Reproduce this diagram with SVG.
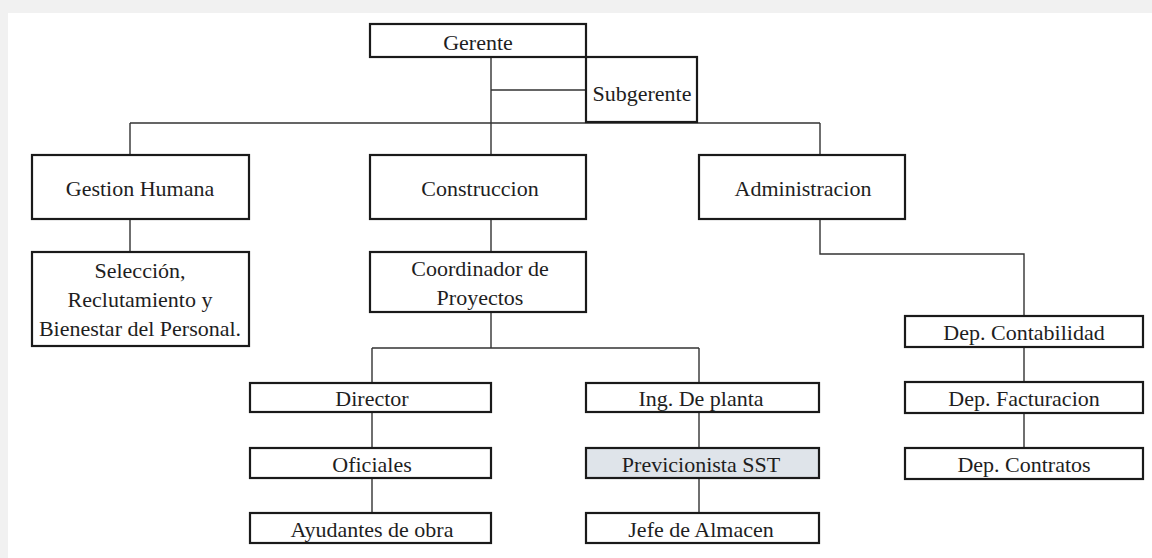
<svg xmlns="http://www.w3.org/2000/svg" width="1152" height="558" viewBox="0 0 1152 558">
<style>
.box{fill:#ffffff;stroke:#1a1a1a;stroke-width:2.2}
.hl{fill:#dfe4ea}
.t{font-family:'Liberation Serif','Tinos','DejaVu Serif','Noto Serif',serif;font-size:22px;fill:#1e1e1e;text-anchor:middle;dominant-baseline:central}
.c{fill:none;stroke:#333;stroke-width:1.4}
</style>
<rect x="0" y="0" width="1152" height="558" fill="#f1f1f1"/>
<rect x="8" y="13" width="1144" height="545" fill="#ffffff"/>
<g id="connectors">
<path class="c" d="M491 57V155M491 90H586M130 123H820M130 123V155M820 123V155"/>
<path class="c" d="M130 219V252M491 219V252M491 312V348M372 348H699M372 348V383M699 348V383"/>
<path class="c" d="M372 412V448M372 478V513M699 412V448M699 478V513"/>
<path class="c" d="M820 219V254H1024V316M1024 347V382M1024 413V448"/>
</g>
<g id="gerente"><rect class="box" x="370" y="24" width="216" height="33"/><text class="t" x="478" y="42">Gerente</text></g>
<g id="subgerente"><rect class="box" x="586" y="57" width="111" height="65"/><text class="t" x="642" y="93">Subgerente</text></g>
<g id="gestion"><rect class="box" x="32" y="155" width="217" height="64"/><text class="t" x="140" y="188">Gestion Humana</text></g>
<g id="construccion"><rect class="box" x="370" y="155" width="216" height="64"/><text class="t" x="480" y="188">Construccion</text></g>
<g id="administracion"><rect class="box" x="699" y="155" width="206" height="64"/><text class="t" x="803" y="188">Administracion</text></g>
<g id="seleccion"><rect class="box" x="32" y="252" width="217" height="94"/><text class="t" x="140" y="270">Selección,</text><text class="t" x="140" y="299">Reclutamiento y</text><text class="t" x="140" y="328">Bienestar del Personal.</text></g>
<g id="coordinador"><rect class="box" x="370" y="252" width="216" height="60"/><text class="t" x="480" y="268">Coordinador de</text><text class="t" x="480" y="297">Proyectos</text></g>
<g id="director"><rect class="box" x="250" y="383" width="241" height="29"/><text class="t" x="372" y="398">Director</text></g>
<g id="ingplanta"><rect class="box" x="586" y="383" width="233" height="29"/><text class="t" x="701" y="398">Ing. De planta</text></g>
<g id="oficiales"><rect class="box" x="250" y="448" width="241" height="30"/><text class="t" x="372" y="464">Oficiales</text></g>
<g id="previcionista"><rect class="box hl" x="586" y="448" width="233" height="30"/><text class="t" x="701" y="464">Previcionista SST</text></g>
<g id="ayudantes"><rect class="box" x="250" y="513" width="241" height="30"/><text class="t" x="372" y="529">Ayudantes de obra</text></g>
<g id="jefe"><rect class="box" x="586" y="513" width="233" height="30"/><text class="t" x="701" y="529">Jefe de Almacen</text></g>
<g id="contabilidad"><rect class="box" x="905" y="316" width="238" height="31"/><text class="t" x="1024" y="332">Dep. Contabilidad</text></g>
<g id="facturacion"><rect class="box" x="905" y="382" width="238" height="31"/><text class="t" x="1024" y="398">Dep. Facturacion</text></g>
<g id="contratos"><rect class="box" x="905" y="448" width="238" height="31"/><text class="t" x="1024" y="464">Dep. Contratos</text></g>
</svg>
